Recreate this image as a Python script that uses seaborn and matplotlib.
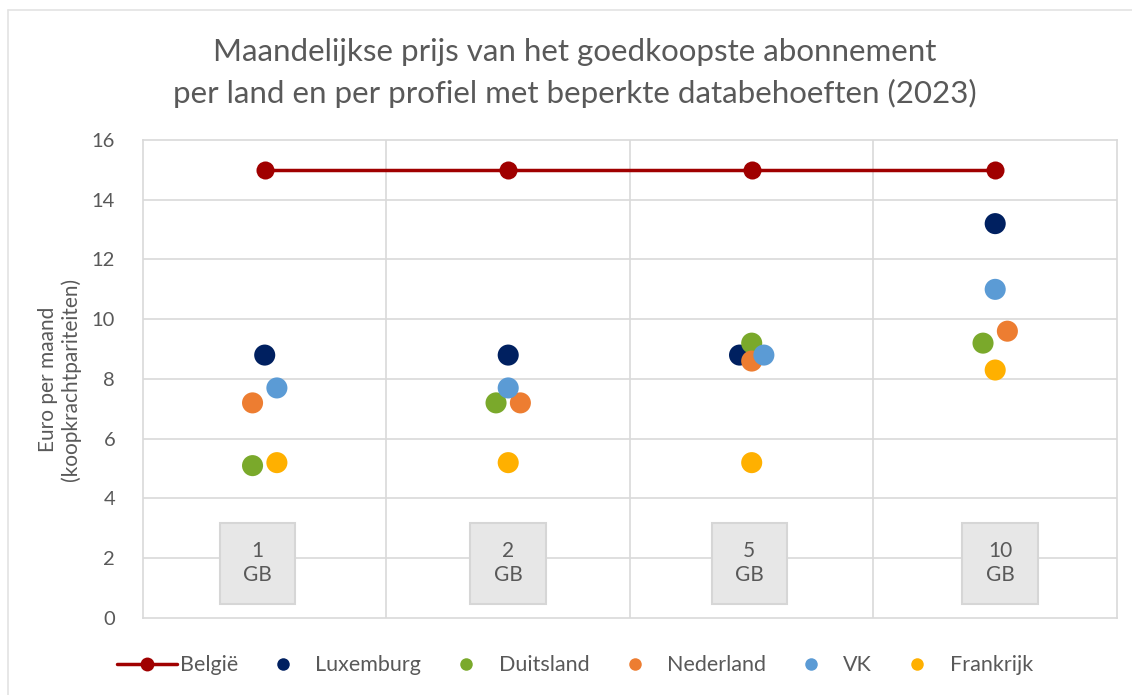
import numpy as np
import pandas as pd
import seaborn as sns
import matplotlib.pyplot as plt
from matplotlib.patches import Rectangle
from matplotlib.lines import Line2D

# data
profielen = ["1\nGB", "2\nGB", "5\nGB", "10\nGB"]
belgie = [15.0, 15.0, 15.0, 15.0]
luxemburg = [8.8, 8.8, 8.8, 13.2]
duitsland = [5.1, 7.2, 9.2, 9.2]
nederland = [7.2, 7.2, 8.6, 9.6]
vk = [7.7, 7.7, 8.8, 11.0]
frankrijk = [5.2, 5.2, 5.2, 8.3]

# small sideways shift so overlapping dots stay visible (category units)
dodge = {
    "Luxemburg": [0.0, 0.0, -0.05, 0.0],
    "Duitsland": [-0.05, -0.05, 0.0, -0.05],
    "Nederland": [-0.05, 0.05, 0.0, 0.05],
    "VK": [0.05, 0.0, 0.05, 0.0],
    "Frankrijk": [0.05, 0.0, 0.0, 0.0],
}
box_shift = [-0.03, 0.0, -0.01, 0.02]

kleuren = {
    "België": "#a00000",
    "Luxemburg": "#002060",
    "Duitsland": "#7aa92b",
    "Nederland": "#ed7d31",
    "VK": "#5b9bd5",
    "Frankrijk": "#ffb000",
}

series = {"Luxemburg": luxemburg, "Duitsland": duitsland, "Nederland": nederland,
          "VK": vk, "Frankrijk": frankrijk}

rows = []
for land, vals in series.items():
    for i, v in enumerate(vals):
        rows.append({"land": land, "x": i + dodge[land][i], "prijs": v})
df = pd.DataFrame(rows)
df_be = pd.DataFrame({"x": np.arange(len(profielen)), "prijs": belgie})

sns.set_theme(style="white")
plt.rcParams["font.family"] = ["Lato", "DejaVu Sans"]
txt = "#595959"
grid = "#d9d9d9"

fig = plt.figure(figsize=(11.32, 6.95), dpi=100)
ax = fig.add_axes([0.1263, 0.1108, 0.8604, 0.6878])

# outer chart border
fig.add_artist(Line2D([0.0075, 0.0075], [0, 0.985], transform=fig.transFigure, color="#e3e3e3", lw=1.2))
fig.add_artist(Line2D([0.0075, 1.0], [0.985, 0.985], transform=fig.transFigure, color="#e3e3e3", lw=1.2))

ax.set_xlim(-0.5, 3.5)
ax.set_ylim(0, 16)
ax.set_yticks(range(0, 17, 2))
ax.set_xticks([])
for y in range(2, 16, 2):
    ax.axhline(y, color=grid, lw=1.2, zorder=0)
for xb in [0.5, 1.5, 2.5]:
    ax.axvline(xb, color=grid, lw=1.2, zorder=0)
for s in ax.spines.values():
    s.set_color(grid)
    s.set_linewidth(1.2)

# profile labels in grey boxes
for i, lab in enumerate(profielen):
    xc = i + box_shift[i]
    ax.add_patch(Rectangle((xc - 0.155, 0.47), 0.31, 2.7, facecolor="#e7e7e7",
                           edgecolor="#d6d6d6", lw=1.5, zorder=1))
    ax.text(xc, 1.85, lab, ha="center", va="center", fontsize=15,
            color=txt, linespacing=1.25, zorder=2)

sns.lineplot(data=df_be, x="x", y="prijs", color=kleuren["België"], lw=2.5,
             marker="o", markersize=13, markeredgewidth=0, ax=ax, zorder=3)
sns.scatterplot(data=df, x="x", y="prijs", hue="land", palette=kleuren,
                s=230, linewidth=0, ax=ax, legend=False, zorder=4)

ax.set_xlabel("")
ax.set_ylabel("Euro per maand\n(koopkrachtpariteiten)", fontsize=15, color=txt,
              labelpad=8, linespacing=1.15)
ax.tick_params(axis="y", labelsize=14.5, labelcolor=txt, length=0, pad=20)

fig.text(0.508, 0.895,
         "Maandelijkse prijs van het goedkoopste abonnement\nper land en per profiel met beperkte databehoeften (2023)",
         ha="center", va="center", fontsize=22.5, color=txt, linespacing=1.55)

handles = [Line2D([], [], color=kleuren["België"], lw=2.5, marker="o", markersize=10, markeredgewidth=0)]
for land in series:
    handles.append(Line2D([], [], color=kleuren[land], lw=0, marker="o", markersize=9, markeredgewidth=0))
labels = ["België"] + list(series.keys())
fig.legend(handles, labels, loc="center", bbox_to_anchor=(0.508, 0.043), ncol=6, frameon=False,
           fontsize=15.5, labelcolor=txt, handlelength=2.8, handletextpad=0.1, columnspacing=0.7)

fig.savefig("out.png", dpi=100, facecolor="white")
